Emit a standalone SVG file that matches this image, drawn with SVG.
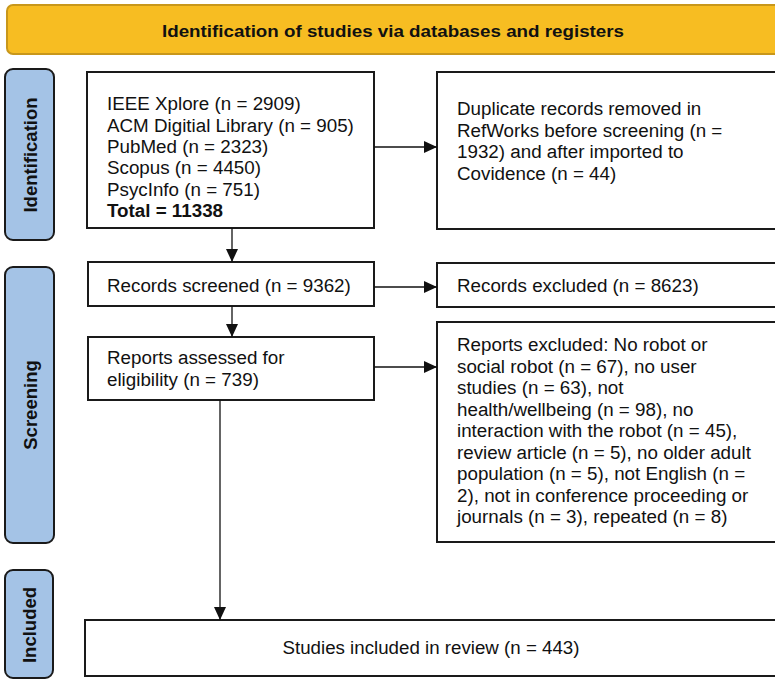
<svg xmlns="http://www.w3.org/2000/svg" width="775" height="682" viewBox="0 0 775 682">
<style>
.box{fill:#fff;stroke:#1a1a1a;stroke-width:2}
.side{fill:#a4c3e6;stroke:#1a1a1a;stroke-width:2}
.t{font-family:"Liberation Sans",Arial,sans-serif;font-size:18.8px;fill:#111}
.sb{font-family:"Liberation Sans",Arial,sans-serif;font-size:18.5px;font-weight:bold;fill:#111}
.ln{stroke:#111;stroke-width:1.3;fill:none}
</style>
<defs>
<marker id="ah" viewBox="0 0 13 12" refX="13" refY="6" markerWidth="13" markerHeight="12" markerUnits="userSpaceOnUse" orient="auto">
<path d="M0,0 L13,6 L0,12 z" fill="#111"/>
</marker>
</defs>
<rect width="775" height="682" fill="#fff"/>
<g id="header">
<rect x="7" y="5" width="780" height="49" rx="6" fill="#f7bd22" stroke="#c8971b" stroke-width="2"/>
<text x="393" y="37" text-anchor="middle" font-family="'Liberation Sans',Arial,sans-serif" font-size="17" font-weight="bold" fill="#111" textLength="462" lengthAdjust="spacingAndGlyphs">Identification of studies via databases and registers</text>
</g>
<g id="side-identification">
<rect class="side" x="5" y="69" width="49" height="171" rx="8"/>
<text class="sb" transform="translate(36.5,155) rotate(-90)" text-anchor="middle">Identification</text>
</g>
<g id="side-screening">
<rect class="side" x="5" y="267" width="49" height="276" rx="8"/>
<text class="sb" transform="translate(36.5,405) rotate(-90)" text-anchor="middle">Screening</text>
</g>
<g id="side-included">
<rect class="side" x="5" y="570" width="48" height="108" rx="8"/>
<text class="sb" transform="translate(36,625) rotate(-90)" text-anchor="middle">Included</text>
</g>
<g id="sources">
<rect class="box" x="87" y="72" width="287" height="156"/>
<text class="t" x="107" y="110">IEEE Xplore (n = 2909)</text>
<text class="t" x="107" y="131.5">ACM Digitial Library (n = 905)</text>
<text class="t" x="107" y="152.5">PubMed (n = 2323)</text>
<text class="t" x="107" y="174">Scopus (n = 4450)</text>
<text class="t" x="107" y="195.5">PsycInfo (n = 751)</text>
<text class="t" x="107" y="217" font-weight="bold">Total = 11338</text>
</g>
<g id="duplicates">
<rect class="box" x="437" y="72" width="350" height="157"/>
<text class="t" x="457" y="115">Duplicate records removed in</text>
<text class="t" x="457" y="137">RefWorks before screening (n =</text>
<text class="t" x="457" y="158">1932) and after imported to</text>
<text class="t" x="457" y="180">Covidence (n = 44)</text>
</g>
<g id="screened">
<rect class="box" x="88" y="262" width="286" height="44"/>
<text class="t" x="107" y="291.5">Records screened (n = 9362)</text>
</g>
<g id="rec-excluded">
<rect class="box" x="437" y="263" width="350" height="44"/>
<text class="t" x="457" y="292">Records excluded (n = 8623)</text>
</g>
<g id="assessed">
<rect class="box" x="88" y="337" width="286" height="63"/>
<text class="t" x="107" y="364">Reports assessed for</text>
<text class="t" x="107" y="385.5">eligibility (n = 739)</text>
</g>
<g id="rep-excluded">
<rect class="box" x="437" y="322" width="350" height="220"/>
<text class="t" x="457" y="351">Reports excluded: No robot or</text>
<text class="t" x="457" y="372.5">social robot (n = 67), no user</text>
<text class="t" x="457" y="394">studies (n = 63), not</text>
<text class="t" x="457" y="415.5">health/wellbeing (n = 98), no</text>
<text class="t" x="457" y="437">interaction with the robot (n = 45),</text>
<text class="t" x="457" y="458.5">review article (n = 5), no older adult</text>
<text class="t" x="457" y="480">population (n = 5), not English (n =</text>
<text class="t" x="457" y="501.5">2), not in conference proceeding or</text>
<text class="t" x="457" y="523">journals (n = 3), repeated (n = 8)</text>
</g>
<g id="included">
<rect class="box" x="85" y="620" width="700" height="56"/>
<text x="431" y="654" text-anchor="middle" font-family="'Liberation Sans',Arial,sans-serif" font-size="17.5" fill="#111" textLength="297" lengthAdjust="spacingAndGlyphs">Studies included in review (n = 443)</text>
</g>
<g id="connectors">
<line class="ln" x1="374" y1="147" x2="437" y2="147" marker-end="url(#ah)"/>
<line class="ln" x1="232" y1="228" x2="232" y2="262" marker-end="url(#ah)"/>
<line class="ln" x1="374" y1="287" x2="437" y2="287" marker-end="url(#ah)"/>
<line class="ln" x1="232" y1="306" x2="232" y2="337" marker-end="url(#ah)"/>
<line class="ln" x1="374" y1="367" x2="437" y2="367" marker-end="url(#ah)"/>
<line class="ln" x1="220" y1="400" x2="220" y2="620" marker-end="url(#ah)"/>
</g>
</svg>
